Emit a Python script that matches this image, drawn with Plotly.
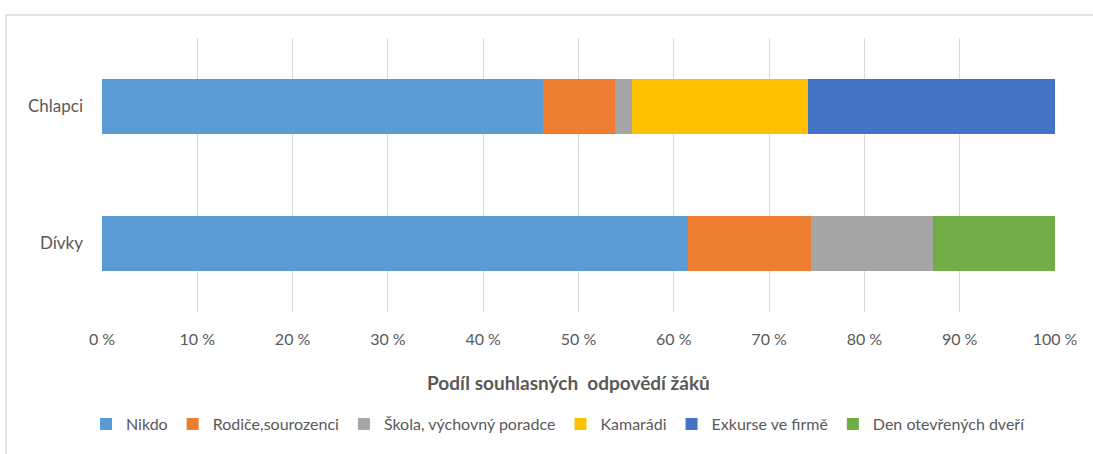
import plotly.graph_objects as go

# Data (share of answers, %)
groups = ["Chlapci", "Dívky"]
series_names = ["Nikdo", "Rodiče,sourozenci", "Škola, výchovný poradce",
                "Kamarádi", "Exkurse ve firmě", "Den otevřených dveří"]
nikdo = [46.3, 61.5]
rodice = [7.5, 12.9]
skola = [1.8, 12.8]
kamaradi = [18.5, 0]
exkurse = [25.9, 0]
den_otevrenych = [0, 12.8]
x_ticks = [0, 10, 20, 30, 40, 50, 60, 70, 80, 90, 100]

colors = ["#5B9BD5", "#ED7D31", "#A5A5A5", "#FFC000", "#4472C4", "#70AD47"]
values = [nikdo, rodice, skola, kamaradi, exkurse, den_otevrenych]

FONT = "Lato"
GRAY = "#595959"

fig = go.Figure()
for name, vals, col in zip(series_names, values, colors):
    fig.add_trace(
        go.Bar(
            x=vals,
            y=groups,
            orientation="h",
            name=name,
            marker=dict(color=col, line=dict(width=0)),
        )
    )

fig.update_layout(
    barmode="stack",
    bargap=0.6,
    width=1093,
    height=454,
    margin=dict(l=102, r=38, t=38, b=142),
    paper_bgcolor="white",
    plot_bgcolor="white",
    font=dict(family=FONT, size=16, color=GRAY),
    xaxis=dict(
        range=[0, 100],
        tickvals=x_ticks,
        ticktext=[f"{v} %" for v in x_ticks],
        showgrid=True,
        gridcolor="#d9d9d9",
        gridwidth=1,
        zeroline=False,
        showline=False,
        ticklabelstandoff=16,
        tickfont=dict(family=FONT, size=16, color=GRAY),
    ),
    yaxis=dict(
        autorange="reversed",
        showgrid=False,
        zeroline=False,
        showline=False,
        ticklabelstandoff=18,
        tickfont=dict(family=FONT, size=17, color=GRAY),
    ),
    legend=dict(
        orientation="h",
        x=0.479,
        xanchor="center",
        y=-0.409,
        yanchor="middle",
        font=dict(family=FONT, size=16, color=GRAY),
        itemwidth=30,
        traceorder="normal",
    ),
    showlegend=True,
)

fig.add_annotation(
    text="<b>Podíl souhlasných  odpovědí žáků</b>",
    xref="paper",
    yref="paper",
    x=0.489,
    y=-0.259,
    xanchor="center",
    yanchor="middle",
    showarrow=False,
    font=dict(family=FONT, size=19, color=GRAY),
)

# chart frame
fig.add_shape(
    type="rect",
    xref="paper",
    yref="paper",
    x0=-0.1007,
    x1=1.2,
    y0=-0.7,
    y1=1.084,
    line=dict(color="#d9d9d9", width=1.5),
    fillcolor="rgba(0,0,0,0)",
    layer="below",
)

fig.write_html(
    "out.html",
    config={"displayModeBar": False},
    post_script="document.body.style.margin='0';",
)
